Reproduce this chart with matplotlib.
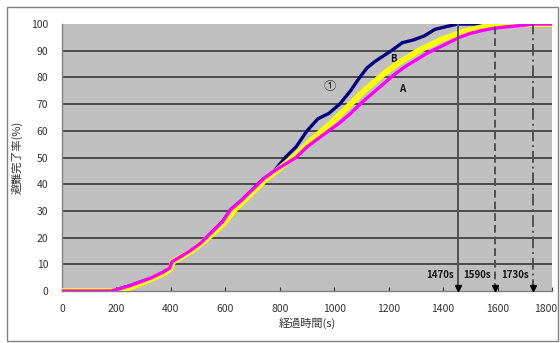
import matplotlib
matplotlib.use("Agg")
import matplotlib.pyplot as plt
import matplotlib.transforms as mtransforms
from matplotlib.patches import Rectangle

plt.rcParams['font.family'] = ['Noto Sans CJK JP', 'DejaVu Sans']

# Series B / ① (navy)
t_B = [0, 180, 210, 250, 290, 330, 370, 395, 405, 430, 470, 510, 550, 590, 620, 660, 700,
       740, 780, 820, 860, 900, 940, 980, 1020, 1060, 1090, 1120, 1150, 1180, 1210, 1250,
       1290, 1330, 1370, 1410, 1455, 1800]
v_B = [0, 0, 0.8, 2, 3.5, 5, 7, 8.5, 11, 12.5, 15, 18, 22, 26, 30.5, 34, 38,
       42, 45, 50, 54, 60, 64.5, 66.5, 70, 75, 79.5, 83.5, 86, 88, 90, 93,
       94, 95.5, 98, 99, 100, 100]

# Series A (magenta)
t_A = [0, 180, 210, 250, 290, 330, 370, 395, 405, 430, 470, 510, 550, 590, 620, 660, 700,
       740, 780, 820, 860, 900, 940, 980, 1020, 1060, 1100, 1140, 1180, 1220, 1260, 1300,
       1340, 1380, 1420, 1460, 1500, 1540, 1580, 1620, 1660, 1700, 1730, 1800]
v_A = [0, 0, 0.8, 2, 3.5, 5, 7, 8.5, 11, 12.5, 15, 18, 22, 26, 30.5, 34, 38,
       42, 45, 47.5, 50, 54, 57, 60, 63, 66.5, 70.5, 74, 77.5, 81, 84, 86.5,
       89, 91, 93, 95, 96.5, 97.5, 98.3, 98.8, 99.2, 99.6, 100, 100]

# Third series (yellow)
t_C = [0, 200, 230, 260, 300, 340, 380, 398, 408, 440, 480, 520, 560, 600, 630, 670, 710,
       750, 790, 830, 870, 910, 950, 990, 1030, 1070, 1110, 1150, 1190, 1230, 1270, 1310,
       1350, 1390, 1430, 1470, 1510, 1550, 1590, 1800]
v_C = [0, 0, 0.6, 1.7, 3.3, 5, 7, 8.3, 11, 12.8, 15.3, 18.5, 22, 26, 30, 34, 38,
       42, 45.2, 48.5, 52, 56, 59.5, 63, 67, 71, 75, 78.5, 82, 85, 87.5, 90,
       92, 94, 95.5, 97, 98, 99, 100, 100]

# Completion-time markers
mark_t = [1455, 1590, 1730]
mark_labels = ['1470s', '1590s', '1730s']
mark_styles = ['-', (0, (4, 2)), (0, (6, 2, 1, 2))]

x_ticks = list(range(0, 1801, 200))
y_ticks = list(range(0, 101, 10))

fig = plt.figure(figsize=(5.6, 3.43), dpi=100)
ax = fig.add_axes([62/560, 1-291/343, 490/560, 267/343])
ax.set_facecolor('#C0C0C0')

for y in y_ticks[1:-1]:
    ax.axhline(y, color='#2a2a2a', lw=1.1, zorder=1)

ax.plot(t_B, v_B, color='#000080', lw=2.4, zorder=3)
ax.plot(t_C, v_C, color='#FFFF00', lw=4.2, zorder=4)
ax.plot(t_A, v_A, color='#FF00FF', lw=2.4, zorder=5)

for t, lab, ls in zip(mark_t, mark_labels, mark_styles):
    ax.plot([t, t], [0, 100], color='#505050', lw=1.4, ls=ls, zorder=6)
    ax.plot([t], [1.2], marker='v', color='black', ms=4, zorder=7, clip_on=False)
    ax.text(t - 14, 6, lab, ha='right', va='center', fontsize=7, fontweight='bold',
            color='#111111', zorder=8)

ax.text(985, 76.5, '①', ha='center', va='center', fontsize=9, color='#333333')
ax.text(1216, 87, 'B', ha='center', va='center', fontsize=7, fontweight='bold', color='#111111')
ax.text(1249, 75.5, 'A', ha='center', va='center', fontsize=7, fontweight='bold', color='#111111')

ax.set_xlim(0, 1800)
ax.set_ylim(0, 100)
ax.set_xticks(x_ticks)
ax.set_yticks(y_ticks)
ax.tick_params(axis='x', direction='in', length=3, pad=9, labelsize=7.5, colors='#333333')
ax.tick_params(axis='y', length=0, pad=10, labelsize=7.5, colors='#333333')
for s in ['top', 'right']:
    ax.spines[s].set_visible(False)
for s in ['left', 'bottom']:
    ax.spines[s].set_color('#808080')
    ax.spines[s].set_linewidth(1.0)

# keep the last x tick label inside the frame
last_lbl = ax.get_xticklabels()[-1]
last_lbl.set_transform(last_lbl.get_transform() +
                       mtransforms.ScaledTranslation(-6/100, 0, fig.dpi_scale_trans))

ax.set_xlabel('経過時間(s)', fontsize=8, color='#333333', labelpad=3)
ax.set_ylabel('避難完了率(%)', fontsize=8, color='#333333', labelpad=6)

fig.patches.append(Rectangle((7/560, 1-341/343), 551/560, 334/343, transform=fig.transFigure,
                             fill=False, edgecolor='#808080', lw=1.0))

fig.savefig('out.png', dpi=100)
